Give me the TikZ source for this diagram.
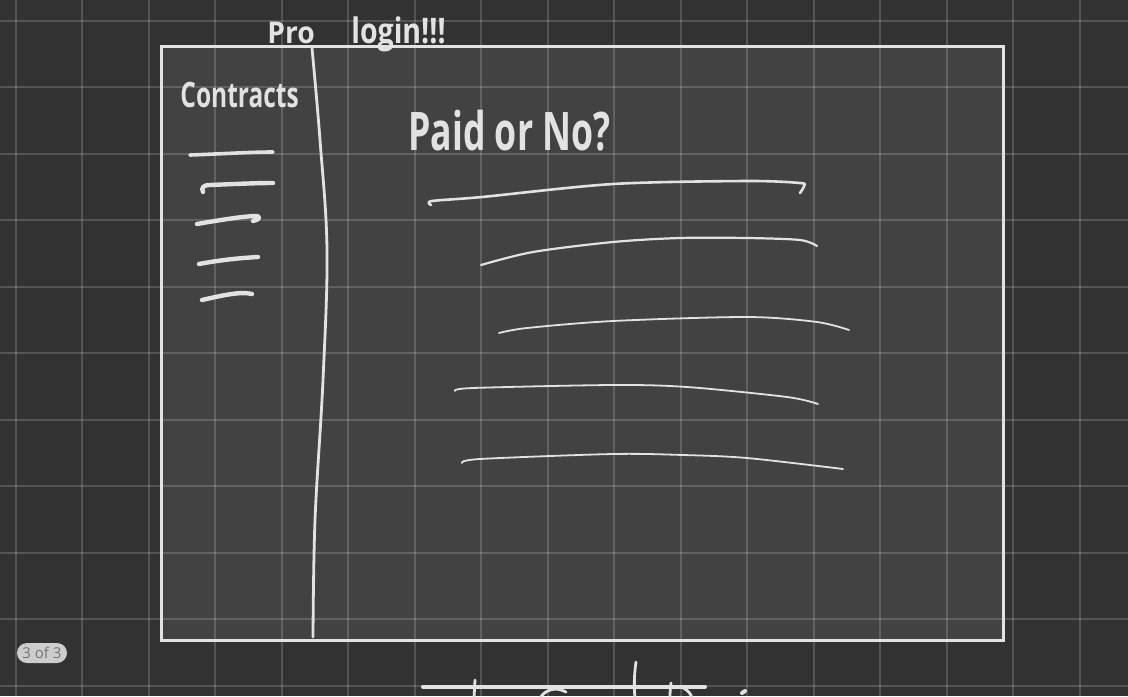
\documentclass[tikz,border=0pt]{standalone}
\usepackage{fontspec}
\setmainfont{Open Sans}
\usepackage{graphicx}
\definecolor{bgout}{HTML}{323232}
\definecolor{bgin}{HTML}{424242}
\definecolor{ink}{HTML}{E2E2E2}
\definecolor{badge}{HTML}{CDCDCD}
\definecolor{badgetext}{HTML}{767676}
\tikzset{
  gridline/.style={white, opacity=0.17, line width=1pt},
  frame/.style={draw=ink, line width=1.5pt},
  pen/.style={ink, line width=2.2pt, line cap=round, line join=round},
  thinpen/.style={ink, line width=0.9pt, line cap=round, line join=round},
  hand/.style={text=ink, inner sep=0pt, anchor=base west},
}
\begin{document}
\begin{tikzpicture}[x=0.5pt, y=-0.5pt]
\useasboundingbox (0,0) rectangle (1128,696);
\fill[bgout] (0,0) rectangle (1128,696);
\fill[bgin] (161,46) rectangle (1003,640);
\foreach \i in {0,...,16} \draw[gridline] ({16+66.47*\i},0) -- ({16+66.47*\i},696);
\foreach \j in {0,...,10} \draw[gridline] (0,{21+66.47*\j}) -- (1128,{21+66.47*\j});
\draw[frame] (161,46) rectangle (1003,640);

% divider
\draw[ink, line width=1.4pt, line cap=round] plot[smooth, tension=0.6] coordinates {(312,48) (320,140) (327,250) (323,380) (315,520) (313,637)};

% texts
\node[hand, font={\bfseries\fontsize{15}{15}\selectfont}] (pro) at (267,43) {\scalebox{0.94}[1]{Pro}};
\node[hand, font={\bfseries\fontsize{16}{16}\selectfont}] (login) at (351,43) {\scalebox{0.89}[1.1]{login!!!}};
\node[hand, font={\bfseries\fontsize{17.5}{17.5}\selectfont}] (contracts) at (180,107) {\scalebox{0.70}[1]{Contracts}};
\node[hand, font={\bfseries\fontsize{26.6}{26.6}\selectfont}] (paid) at (408,150) {\scalebox{0.67}[1]{Paid or No?}};

% contracts list strokes
\draw[pen, line width=1.8pt] (190,155) .. controls (220,154) and (250,152) .. (273,152);
\draw[pen] (203,192) .. controls (201,188) and (203,185) .. (210,185) .. controls (235,184) and (255,183) .. (273,183);
\draw[pen] (197,224) .. controls (220,220) and (245,216) .. (257,216) .. controls (261,217) and (259,220) .. (253,221);
\draw[pen] (199,264) .. controls (220,260) and (240,258) .. (258,257);
\draw[pen] (202,300) .. controls (220,296) and (240,291) .. (252,294);

% paid/not paid lines
\draw[thinpen, line width=1.3pt] plot[smooth, tension=0.5] coordinates {(431,205) (432,201) (482,197) (613,184) (747,181) (800,183) (804,186) (800,193)};
\draw[thinpen, line width=1.1pt] plot[smooth, tension=0.5] coordinates {(481,265) (533,252) (613,242) (680,238) (747,238) (800,240) (817,246)};
\draw[thinpen] plot[smooth, tension=0.5] coordinates {(499,333) (527,328) (613,321) (747,317) (817,322) (849,330)};
\draw[thinpen] plot[smooth, tension=0.5] coordinates {(455,391) (473,388) (613,385) (687,387) (787,397) (818,404)};
\draw[thinpen] plot[smooth, tension=0.5] coordinates {(462,463) (480,459) (613,454) (683,455) (747,458) (843,469)};

% partial strokes at the bottom edge
\draw[ink, line width=2pt, line cap=round] (423,687) -- (705,687);
\draw[pen, line width=1.4pt] (475,680) -- (474,698);
\draw[pen, line width=1.4pt] (540,698) .. controls (545,690) and (555,686) .. (566,692);
\draw[pen, line width=1.4pt] (636,662) .. controls (634,675) and (634,688) .. (635,698);
\draw[pen, line width=1.4pt] (671,683) .. controls (670,690) and (670,695) .. (670,698);
\draw[pen, line width=1.4pt] (673,688) .. controls (680,684) and (690,690) .. (692,698);
\draw[pen, line width=2pt] (742,693) -- (745,691);

% page badge
\node[fill=badge, rounded corners=5pt, minimum width=25pt, minimum height=10pt, inner sep=0pt, text=badgetext, font={\fontsize{7.5}{7.5}\selectfont}] (badge) at (42,653) {3 of 3};
\end{tikzpicture}
\end{document}
